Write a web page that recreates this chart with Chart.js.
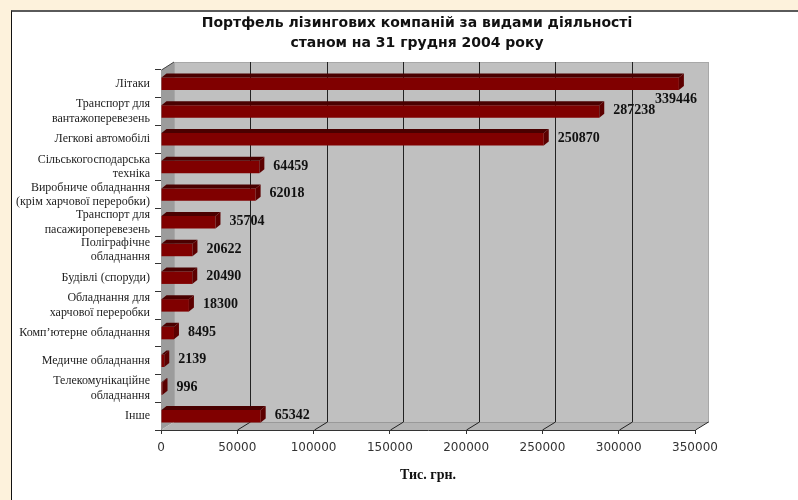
<!DOCTYPE html>
<html>
<head>
<meta charset="utf-8">
<script src="https://cdn.jsdelivr.net/npm/chart.js@4"></script>
<style>
  body { margin: 0; background: #fdf2dc; }
  #frame { position: absolute; left: 11px; top: 10px; width: 787px; height: 488px;
           background: #fff; border-top: 2px solid #5a5a5a; border-left: 1px solid #111; }
  #myChart { position: absolute; left: 0; top: 0; }
</style>
</head>
<body>
<div id="frame"></div>
<canvas id="myChart" width="798" height="500"></canvas>
<script>
// Categories (top to bottom) and values, thousand UAH
var categories = [
    'Літаки',
    ['Транспорт для', 'вантажоперевезень'],
    'Легкові автомобілі',
    ['Сільськогосподарська', 'техніка'],
    ['Виробниче обладнання', '(крім харчової переробки)'],
    ['Транспорт для', 'пасажироперевезень'],
    ['Поліграфічне', 'обладнання'],
    'Будівлі (споруди)',
    ['Обладнання для', 'харчової переробки'],
    'Комп\u2019ютерне обладнання',
    'Медичне обладнання',
    ['Телекомунікаційне', 'обладнання'],
    'Інше'
];
var values = [339446, 287238, 250870, 64459, 62018, 35704, 20622, 20490, 18300, 8495, 2139, 996, 65342];

var xMin = 0;
var xMax = 350000;
var xStep = 50000;

var titleLines = ['Портфель лізингових компаній за видами діяльності', 'станом на 31 грудня 2004 року'];
var xTitle = 'Тис. грн.';

// depth of the back wall and of each bar
var wallDx = 13, wallDy = -8;
var barDx = 5, barDy = -4;

// two line heading, centred on the page
var headingPlugin = {
    id: 'heading',
    afterDraw: function(chart) {
        var c = chart.ctx;
        c.save();
        c.font = 'bold 14px "DejaVu Sans"';
        c.fillStyle = '#111';
        c.textAlign = 'center';
        c.textBaseline = 'middle';
        c.fillText(titleLines[0], 417, 23);
        c.fillText(titleLines[1], 417, 43);
        c.restore();
    }
};

// gray 3D box behind the bars
var wallPlugin = {
    id: 'wall',
    beforeDatasetsDraw: function(chart) {
        var c = chart.ctx;
        var a = chart.chartArea;
        var xs = chart.scales.x;
        c.save();
        // back wall
        c.fillStyle = '#c0c0c0';
        c.fillRect(a.left + wallDx, a.top + wallDy, a.right - a.left, a.bottom - a.top);
        c.strokeStyle = '#a8a8a8';
        c.lineWidth = 1;
        c.strokeRect(a.left + wallDx + 0.5, a.top + wallDy + 0.5, a.right - a.left, a.bottom - a.top);
        // left wall
        c.fillStyle = '#9c9c9c';
        c.beginPath();
        c.moveTo(a.left, a.top);
        c.lineTo(a.left + wallDx, a.top + wallDy);
        c.lineTo(a.left + wallDx, a.bottom + wallDy);
        c.lineTo(a.left, a.bottom);
        c.closePath();
        c.fill();
        // floor
        c.fillStyle = '#b4b4b4';
        c.beginPath();
        c.moveTo(a.left, a.bottom);
        c.lineTo(a.left + wallDx, a.bottom + wallDy);
        c.lineTo(a.right + wallDx, a.bottom + wallDy);
        c.lineTo(a.right, a.bottom);
        c.closePath();
        c.fill();
        c.strokeStyle = '#999';
        c.beginPath();
        c.moveTo(a.left + wallDx, a.bottom + wallDy + 0.5);
        c.lineTo(a.right + wallDx, a.bottom + wallDy + 0.5);
        c.stroke();
        // grid lines on the wall and floor
        c.strokeStyle = '#222';
        xs.ticks.forEach(function(t) {
            if (t.value === xMin) return;
            var x = Math.round(xs.getPixelForValue(t.value)) + 0.5;
            c.beginPath();
            if (t.value !== xMax) {
                c.moveTo(x + wallDx, a.top + wallDy);
                c.lineTo(x + wallDx, a.bottom + wallDy);
            }
            c.moveTo(x + wallDx, a.bottom + wallDy);
            c.lineTo(x, a.bottom);
            c.stroke();
        });
        // slanted top of the left axis
        c.strokeStyle = '#444';
        c.beginPath();
        c.moveTo(a.left + 0.5, a.top);
        c.lineTo(a.left + wallDx, a.top + wallDy);
        c.stroke();
        c.restore();
    }
};

// top and side faces of the bars plus the value labels
var barPlugin = {
    id: 'bar3d',
    afterDatasetsDraw: function(chart) {
        var c = chart.ctx;
        var a = chart.chartArea;
        var meta = chart.getDatasetMeta(0);
        c.save();
        meta.data.forEach(function(bar, i) {
            var x = bar.x, base = bar.base;
            var top = bar.y - bar.height / 2, bottom = bar.y + bar.height / 2;
            c.fillStyle = '#4a0000';
            c.beginPath();
            c.moveTo(base, top);
            c.lineTo(base + barDx, top + barDy);
            c.lineTo(x + barDx, top + barDy);
            c.lineTo(x, top);
            c.closePath();
            c.fill();
            c.fillStyle = '#5c0000';
            c.beginPath();
            c.moveTo(x, top);
            c.lineTo(x + barDx, top + barDy);
            c.lineTo(x + barDx, bottom + barDy);
            c.lineTo(x, bottom);
            c.closePath();
            c.fill();

            var txt = String(values[i]);
            c.font = 'bold 14px "Liberation Serif"';
            c.fillStyle = '#111';
            c.textBaseline = 'middle';
            var w = c.measureText(txt).width;
            if (x + barDx + 9 + w > a.right + wallDx) {
                c.textAlign = 'right';
                c.fillText(txt, x + 18, bottom + 9);
            } else {
                c.textAlign = 'left';
                c.fillText(txt, x + barDx + 9, bar.y - 1);
            }
        });
        c.restore();
    }
};

var ctx = document.getElementById('myChart').getContext('2d');
var myChart = new Chart(ctx, {
    type: 'bar',
    data: {
        labels: categories,
        datasets: [{
            data: values,
            backgroundColor: '#800000',
            borderWidth: 0,
            categoryPercentage: 1,
            barPercentage: 0.45
        }]
    },
    options: {
        indexAxis: 'y',
        responsive: false,
        animation: false,
        layout: { padding: { left: 0, right: 103, top: 70, bottom: 0 } },
        plugins: {
            legend: { display: false },
            tooltip: { enabled: false },
            title: { display: false }
        },
        scales: {
            x: {
                min: xMin,
                max: xMax,
                ticks: {
                    stepSize: xStep,
                    color: '#333',
                    font: { family: 'DejaVu Sans', size: 12 },
                    padding: 7,
                    maxRotation: 0,
                    callback: function(v) { return String(v); }
                },
                grid: { drawOnChartArea: false, tickLength: 4, color: '#333' },
                border: { color: '#333' },
                title: {
                    display: true,
                    text: xTitle,
                    color: '#111',
                    font: { family: 'Liberation Serif', size: 14, weight: 'bold' },
                    padding: { top: 4, bottom: 16 }
                },
                afterFit: function(scale) { scale.height = 70; }
            },
            y: {
                ticks: {
                    color: '#222',
                    font: { family: 'Liberation Serif', size: 12, lineHeight: 1.2 },
                    padding: 5,
                    autoSkip: false
                },
                grid: { drawOnChartArea: false, tickLength: 6, color: '#333', offset: true },
                border: { color: '#333' },
                afterFit: function(scale) { scale.width = 161; }
            }
        }
    },
    plugins: [wallPlugin, barPlugin, headingPlugin]
});
</script>
</body>
</html>
